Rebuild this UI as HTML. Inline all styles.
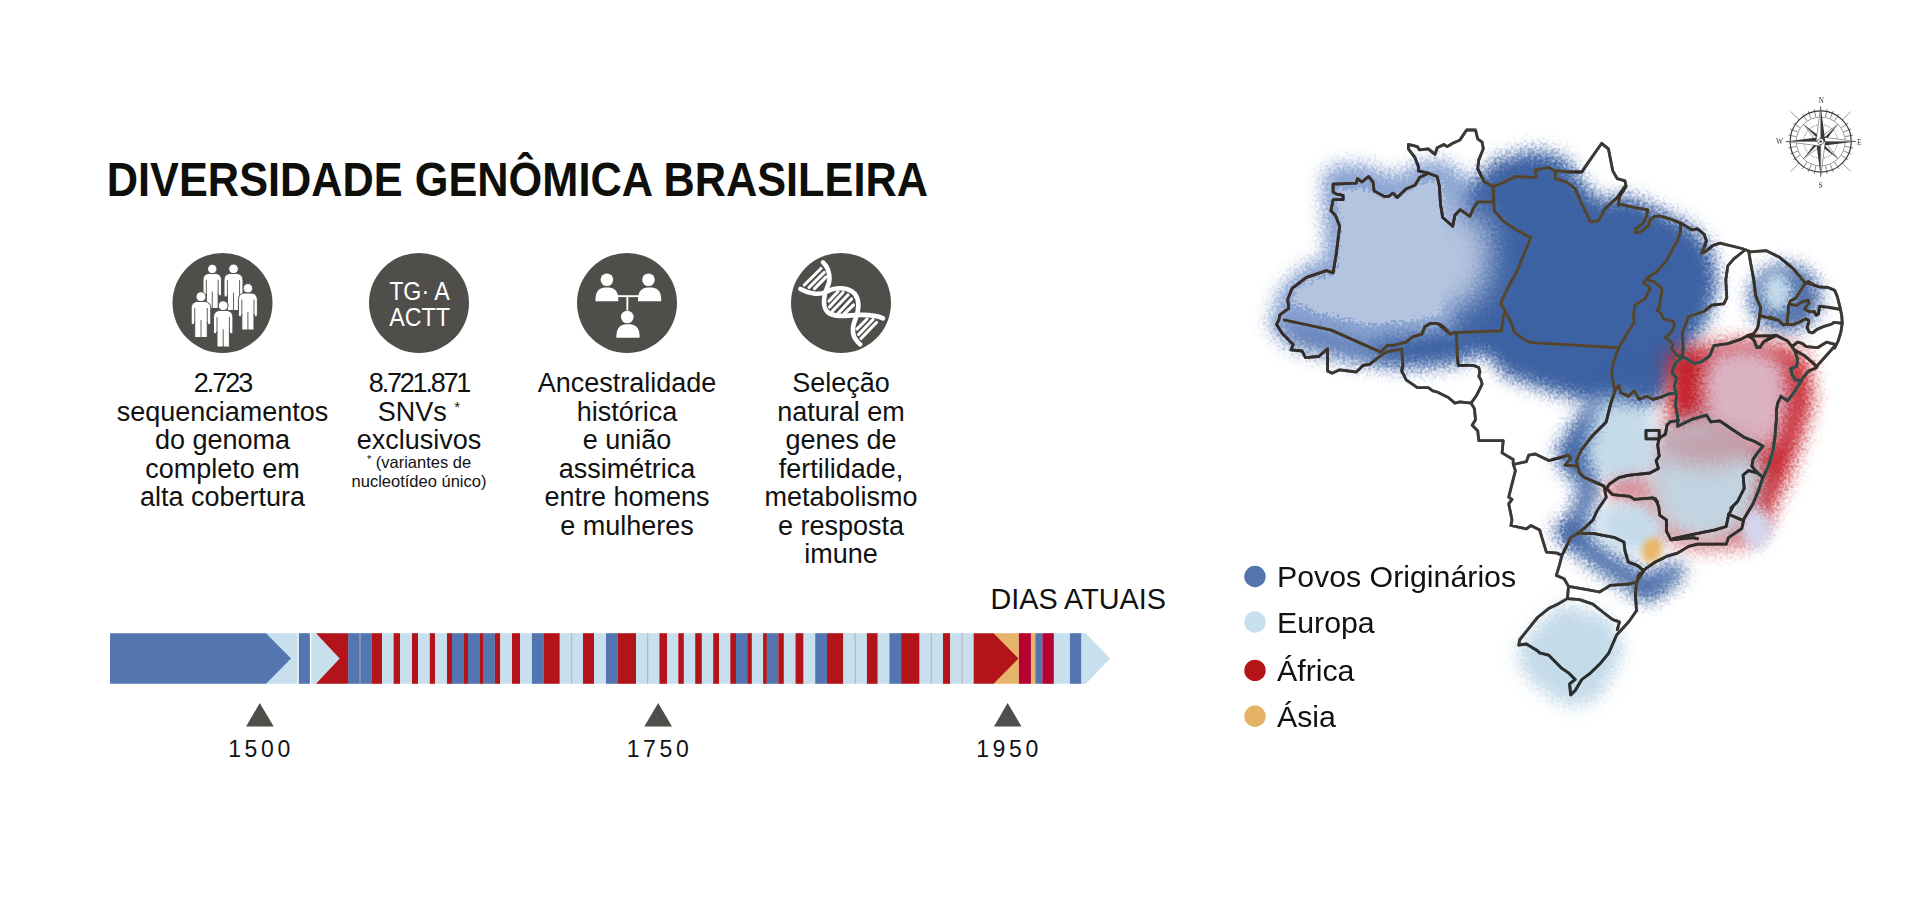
<!DOCTYPE html>
<html><head><meta charset="utf-8">
<style>
html,body{margin:0;padding:0;background:#fff;width:1920px;height:903px;overflow:hidden}
svg{display:block}
text{font-family:"Liberation Sans",sans-serif}
</style></head>
<body>
<svg width="1920" height="903" viewBox="0 0 1920 903">
<!-- TITLE -->
<text x="106.8" y="196" font-size="48" font-weight="700" fill="#0e0e0b" transform="translate(106.8 0) scale(0.9025 1) translate(-106.8 0)">DIVERSIDADE GENÔMICA BRASILEIRA</text>

<!-- ICON CIRCLES -->
<g fill="#4f4e4a">
<circle cx="222.5" cy="303" r="50"/>
<circle cx="419" cy="303" r="50"/>
<circle cx="627" cy="303" r="50"/>
<circle cx="841" cy="303" r="50"/>
</g>

<circle cx="212.25" cy="268.98" r="4.72" fill="#fff" stroke="#4f4e4a" stroke-width="1.0"/>
<path d="M203.00,293.92 L203.00,280.31 C203.00,275.44 205.78,273.50 209.47,273.50 L215.03,273.50 C218.72,273.50 221.50,275.44 221.50,280.31 L221.50,293.92 C221.50,296.35 218.17,296.35 218.17,293.92 L218.17,308.50 L206.33,308.50 L206.33,293.92 C206.33,296.35 203.00,296.35 203.00,293.92 Z" fill="#fff" stroke="#4f4e4a" stroke-width="1.0" stroke-linejoin="round"/>
<path d="M206.33,279.82 L206.33,294.89 M218.17,279.82 L218.17,294.89 M212.25,291.49 L212.25,308.99" stroke="#4f4e4a" stroke-width="0.9" fill="none"/>
<circle cx="233.50" cy="268.85" r="4.84" fill="#fff" stroke="#4f4e4a" stroke-width="1.0"/>
<path d="M224.00,295.08 L224.00,280.69 C224.00,275.56 226.85,273.50 230.65,273.50 L236.35,273.50 C240.15,273.50 243.00,275.56 243.00,280.69 L243.00,295.08 C243.00,297.65 239.58,297.65 239.58,295.08 L239.58,310.50 L227.42,310.50 L227.42,295.08 C227.42,297.65 224.00,297.65 224.00,295.08 Z" fill="#fff" stroke="#4f4e4a" stroke-width="1.0" stroke-linejoin="round"/>
<path d="M227.42,280.18 L227.42,296.11 M239.58,280.18 L239.58,296.11 M233.50,292.51 L233.50,311.01" stroke="#4f4e4a" stroke-width="0.9" fill="none"/>
<circle cx="201.00" cy="296.70" r="5.00" fill="#fff" stroke="#4f4e4a" stroke-width="1.0"/>
<path d="M191.20,322.50 L191.20,308.50 C191.20,303.50 194.14,301.50 198.06,301.50 L203.94,301.50 C207.86,301.50 210.80,303.50 210.80,308.50 L210.80,322.50 C210.80,325.00 207.27,325.00 207.27,322.50 L207.27,337.50 L194.73,337.50 L194.73,322.50 C194.73,325.00 191.20,325.00 191.20,322.50 Z" fill="#fff" stroke="#4f4e4a" stroke-width="1.0" stroke-linejoin="round"/>
<path d="M194.73,308.00 L194.73,323.50 M207.27,308.00 L207.27,323.50 M201.00,320.00 L201.00,338.00" stroke="#4f4e4a" stroke-width="0.9" fill="none"/>
<circle cx="247.90" cy="288.35" r="4.84" fill="#fff" stroke="#4f4e4a" stroke-width="1.0"/>
<path d="M238.40,314.58 L238.40,300.19 C238.40,295.06 241.25,293.00 245.05,293.00 L250.75,293.00 C254.55,293.00 257.40,295.06 257.40,300.19 L257.40,314.58 C257.40,317.15 253.98,317.15 253.98,314.58 L253.98,330.00 L241.82,330.00 L241.82,314.58 C241.82,317.15 238.40,317.15 238.40,314.58 Z" fill="#fff" stroke="#4f4e4a" stroke-width="1.0" stroke-linejoin="round"/>
<path d="M241.82,299.68 L241.82,315.61 M253.98,299.68 L253.98,315.61 M247.90,312.01 L247.90,330.51" stroke="#4f4e4a" stroke-width="0.9" fill="none"/>
<circle cx="223.20" cy="305.75" r="4.95" fill="#fff" stroke="#4f4e4a" stroke-width="1.0"/>
<path d="M213.50,331.79 L213.50,317.60 C213.50,312.53 216.41,310.50 220.29,310.50 L226.11,310.50 C229.99,310.50 232.90,312.53 232.90,317.60 L232.90,331.79 C232.90,334.33 229.41,334.33 229.41,331.79 L229.41,347.00 L216.99,347.00 L216.99,331.79 C216.99,334.33 213.50,334.33 213.50,331.79 Z" fill="#fff" stroke="#4f4e4a" stroke-width="1.0" stroke-linejoin="round"/>
<path d="M216.99,317.09 L216.99,332.81 M229.41,317.09 L229.41,332.81 M223.20,329.26 L223.20,347.51" stroke="#4f4e4a" stroke-width="0.9" fill="none"/>
<g fill="#fff" font-size="25" text-anchor="middle">
<text x="419.5" y="300" transform="translate(419.5 0) scale(0.93 1) translate(-419.5 0)">TG· A</text>
<text x="419.5" y="326.5" transform="translate(419.5 0) scale(0.93 1) translate(-419.5 0)">ACTT</text>
</g>
<g fill="#fff">
<circle cx="606.9" cy="279.8" r="6.3"/>
<circle cx="648.5" cy="279.8" r="6.3"/>
<circle cx="627.3" cy="317" r="6.3"/>
<path d="M595.4,301.2 C595.4,289.5 600.0,287.5 606.9,287.5 C613.8,287.5 618.4,289.5 618.4,301.2 Z"/>
<path d="M637.9,301.2 C637.9,289.5 642.5799999999999,287.5 649.5999999999999,287.5 C656.62,287.5 661.3,289.5 661.3,301.2 Z"/>
<path d="M616.3,337.8 C616.3,326.2 620.98,324.2 628.0,324.2 C635.02,324.2 639.7,326.2 639.7,337.8 Z"/>
<rect x="617" y="295.2" width="22" height="1.9"/>
<rect x="626.4" y="296" width="1.9" height="14.5"/>
</g>
<g fill="none" stroke="#fff" stroke-linecap="round">
<path stroke-width="4.6" d="M823.0,262.4 C830.0,269.0 831.0,280.0 827.5,286.5 C824.0,294.0 822.0,306.0 827.0,311.5 C833.0,317.5 846.0,316.0 857.0,315.0 C868.0,314.5 877.0,315.5 883.0,318.3"/>
<path stroke-width="4.6" d="M800.4,289.0 C809.0,294.0 819.0,295.0 826.0,292.0 C835.0,287.0 848.0,286.5 855.0,294.0 C860.0,301.0 858.5,311.0 855.5,319.0 C852.0,327.0 851.0,337.0 860.2,344.4"/>
<line stroke-width="3.1" x1="804.3" y1="285.0" x2="821.0" y2="268.5"/>
<line stroke-width="3.1" x1="809.0" y1="287.5" x2="824.2" y2="272.4"/>
<line stroke-width="3.1" x1="814.5" y1="288.6" x2="826.2" y2="276.8"/>
<line stroke-width="3.1" x1="829.0" y1="301.0" x2="838.0" y2="291.5"/>
<line stroke-width="3.1" x1="829.5" y1="307.0" x2="843.0" y2="292.5"/>
<line stroke-width="3.1" x1="832.0" y1="311.5" x2="848.0" y2="295.0"/>
<line stroke-width="3.1" x1="838.0" y1="313.5" x2="851.5" y2="299.0"/>
<line stroke-width="3.1" x1="844.0" y1="314.0" x2="853.5" y2="305.0"/>
<line stroke-width="3.1" x1="857.0" y1="329.0" x2="867.0" y2="319.0"/>
<line stroke-width="3.1" x1="858.5" y1="334.5" x2="873.0" y2="319.5"/>
<line stroke-width="3.1" x1="861.0" y1="338.5" x2="876.5" y2="322.5"/>
</g>
<!-- CAPTIONS -->
<g font-size="27" fill="#111" text-anchor="middle">
<text x="222.5" y="392" letter-spacing="-2">2.723</text>
<text x="222.5" y="420.5">sequenciamentos</text>
<text x="222.5" y="449">do genoma</text>
<text x="222.5" y="477.5">completo em</text>
<text x="222.5" y="506">alta cobertura</text>

<text x="419" y="392" letter-spacing="-2.2">8.721.871</text>
<text x="419" y="420.5">SNVs <tspan font-size="15" dy="-9">*</tspan></text>
<text x="419" y="449">exclusivos</text>
<text x="419" y="468" font-size="16.5"><tspan font-size="11" dy="-5">*</tspan><tspan dy="5"> (variantes de</tspan></text>
<text x="419" y="486.5" font-size="16.5">nucleotídeo único)</text>

<text x="627" y="392">Ancestralidade</text>
<text x="627" y="420.5">histórica</text>
<text x="627" y="449">e união</text>
<text x="627" y="477.5">assimétrica</text>
<text x="627" y="506">entre homens</text>
<text x="627" y="534.5">e mulheres</text>

<text x="841" y="392">Seleção</text>
<text x="841" y="420.5">natural em</text>
<text x="841" y="449">genes de</text>
<text x="841" y="477.5">fertilidade,</text>
<text x="841" y="506">metabolismo</text>
<text x="841" y="534.5">e resposta</text>
<text x="841" y="563">imune</text>
</g>

<!-- TIMELINE -->
<g id="timeline">
<rect x="262.0" y="633.2" width="35.4" height="50.6" fill="#c8e0ee"/>
<polygon points="110,633.2 266,633.2 291,658.5 266,683.8000000000001 110,683.8000000000001" fill="#5375b0"/>
<rect x="298.8" y="633.2" width="11.1" height="50.6" fill="#5375b0"/>
<rect x="311.2" y="633.2" width="29.8" height="50.6" fill="#c8e0ee"/>
<polygon points="316,633.2 348.6,633.2 348.6,683.8000000000001 316,683.8000000000001 339.7,658.5" fill="#b31419"/>
<rect x="348.2" y="633.2" width="23.7" height="50.6" fill="#5375b0"/>
<rect x="371.9" y="633.2" width="10.2" height="50.6" fill="#b31419"/>
<rect x="382.0" y="633.2" width="11.7" height="50.6" fill="#c8e0ee"/>
<rect x="393.6" y="633.2" width="6.4" height="50.6" fill="#b31419"/>
<rect x="400.0" y="633.2" width="12.1" height="50.6" fill="#c8e0ee"/>
<rect x="412.0" y="633.2" width="6.1" height="50.6" fill="#b31419"/>
<rect x="418.0" y="633.2" width="11.9" height="50.6" fill="#c8e0ee"/>
<rect x="429.8" y="633.2" width="5.4" height="50.6" fill="#b31419"/>
<rect x="435.2" y="633.2" width="11.9" height="50.6" fill="#c8e0ee"/>
<rect x="447.0" y="633.2" width="5.1" height="50.6" fill="#b31419"/>
<rect x="452.0" y="633.2" width="12.1" height="50.6" fill="#5375b0"/>
<rect x="464.0" y="633.2" width="4.1" height="50.6" fill="#b31419"/>
<rect x="468.0" y="633.2" width="12.1" height="50.6" fill="#5375b0"/>
<rect x="480.0" y="633.2" width="3.1" height="50.6" fill="#b31419"/>
<rect x="483.0" y="633.2" width="11.9" height="50.6" fill="#5375b0"/>
<rect x="494.9" y="633.2" width="5.5" height="50.6" fill="#b31419"/>
<rect x="500.3" y="633.2" width="11.7" height="50.6" fill="#c8e0ee"/>
<rect x="512.0" y="633.2" width="8.0" height="50.6" fill="#b31419"/>
<rect x="520.0" y="633.2" width="11.9" height="50.6" fill="#c8e0ee"/>
<rect x="531.9" y="633.2" width="11.5" height="50.6" fill="#5375b0"/>
<rect x="543.4" y="633.2" width="16.4" height="50.6" fill="#b31419"/>
<rect x="559.8" y="633.2" width="23.2" height="50.6" fill="#c8e0ee"/>
<rect x="583.0" y="633.2" width="11.0" height="50.6" fill="#b31419"/>
<rect x="594.0" y="633.2" width="12.0" height="50.6" fill="#c8e0ee"/>
<rect x="606.0" y="633.2" width="11.8" height="50.6" fill="#5375b0"/>
<rect x="617.7" y="633.2" width="18.3" height="50.6" fill="#b31419"/>
<rect x="636.0" y="633.2" width="23.4" height="50.6" fill="#c8e0ee"/>
<rect x="659.4" y="633.2" width="7.6" height="50.6" fill="#b31419"/>
<rect x="667.0" y="633.2" width="11.3" height="50.6" fill="#c8e0ee"/>
<rect x="678.3" y="633.2" width="5.6" height="50.6" fill="#b31419"/>
<rect x="683.9" y="633.2" width="11.4" height="50.6" fill="#c8e0ee"/>
<rect x="695.2" y="633.2" width="6.7" height="50.6" fill="#b31419"/>
<rect x="701.9" y="633.2" width="11.4" height="50.6" fill="#c8e0ee"/>
<rect x="713.2" y="633.2" width="5.8" height="50.6" fill="#b31419"/>
<rect x="719.0" y="633.2" width="11.3" height="50.6" fill="#c8e0ee"/>
<rect x="730.3" y="633.2" width="5.8" height="50.6" fill="#b31419"/>
<rect x="736.0" y="633.2" width="11.2" height="50.6" fill="#5375b0"/>
<rect x="747.2" y="633.2" width="4.7" height="50.6" fill="#b31419"/>
<rect x="751.9" y="633.2" width="11.2" height="50.6" fill="#c8e0ee"/>
<rect x="763.1" y="633.2" width="3.8" height="50.6" fill="#b31419"/>
<rect x="766.9" y="633.2" width="11.4" height="50.6" fill="#5375b0"/>
<rect x="778.3" y="633.2" width="5.6" height="50.6" fill="#b31419"/>
<rect x="783.9" y="633.2" width="11.6" height="50.6" fill="#c8e0ee"/>
<rect x="795.5" y="633.2" width="8.1" height="50.6" fill="#b31419"/>
<rect x="803.6" y="633.2" width="11.6" height="50.6" fill="#c8e0ee"/>
<rect x="815.2" y="633.2" width="11.8" height="50.6" fill="#5375b0"/>
<rect x="827.0" y="633.2" width="16.4" height="50.6" fill="#b31419"/>
<rect x="843.4" y="633.2" width="23.5" height="50.6" fill="#c8e0ee"/>
<rect x="866.9" y="633.2" width="10.9" height="50.6" fill="#b31419"/>
<rect x="877.7" y="633.2" width="11.7" height="50.6" fill="#c8e0ee"/>
<rect x="889.4" y="633.2" width="11.8" height="50.6" fill="#5375b0"/>
<rect x="901.1" y="633.2" width="18.5" height="50.6" fill="#b31419"/>
<rect x="919.6" y="633.2" width="23.4" height="50.6" fill="#c8e0ee"/>
<rect x="943.0" y="633.2" width="7.3" height="50.6" fill="#b31419"/>
<rect x="950.3" y="633.2" width="23.8" height="50.6" fill="#c8e0ee"/>
<rect x="993.0" y="633.2" width="25.9" height="50.6" fill="#e6b46b"/>
<rect x="1018.9" y="633.2" width="12.1" height="50.6" fill="#b60032"/>
<rect x="1030.9" y="633.2" width="4.4" height="50.6" fill="#e6b46b"/>
<rect x="1035.3" y="633.2" width="7.2" height="50.6" fill="#5375b0"/>
<rect x="1042.4" y="633.2" width="11.5" height="50.6" fill="#b60032"/>
<rect x="1053.9" y="633.2" width="16.0" height="50.6" fill="#c8e0ee"/>
<rect x="1069.9" y="633.2" width="11.7" height="50.6" fill="#5375b0"/>
<rect x="359.5" y="633.2" width="1" height="50.6" fill="#c0a8b8"/>
<rect x="571.2" y="633.2" width="1" height="50.6" fill="#c0a8b8"/>
<rect x="647.2" y="633.2" width="1" height="50.6" fill="#c0a8b8"/>
<rect x="854.7" y="633.2" width="1" height="50.6" fill="#c0a8b8"/>
<rect x="930.8" y="633.2" width="1" height="50.6" fill="#c0a8b8"/>
<rect x="961.5" y="633.2" width="1" height="50.6" fill="#c0a8b8"/>
<polygon points="973.7,633.2 993.5,633.2 1018.5,658.5 993.5,683.8000000000001 973.7,683.8000000000001" fill="#b31419"/>
<polygon points="1081.4,633.2 1085.8,633.2 1110.2,658.5 1085.8,683.8000000000001 1081.4,683.8000000000001" fill="#c8e0ee"/>
</g>
<text x="990.5" y="609" font-size="28.8" fill="#111">DIAS ATUAIS</text>
<g fill="#4f4e4a">
<polygon points="246,726.5 273.7,726.5 259.8,703"/>
<polygon points="644.3,726.5 672,726.5 658.2,703"/>
<polygon points="994,726.5 1021.5,726.5 1007.6,703"/>
</g>
<g font-size="23" fill="#111" text-anchor="middle" letter-spacing="3.6">
<text x="261" y="757">1500</text>
<text x="659.5" y="757">1750</text>
<text x="1009" y="757">1950</text>
</g>

<!-- MAP -->
<g id="map">
<defs>
<filter id="b3" x="-50%" y="-50%" width="200%" height="200%"><feGaussianBlur stdDeviation="3"/></filter>
<filter id="b4" x="-50%" y="-50%" width="200%" height="200%"><feGaussianBlur stdDeviation="4"/></filter>
<filter id="b5" x="-50%" y="-50%" width="200%" height="200%"><feGaussianBlur stdDeviation="5"/></filter>
<filter id="b9" x="-50%" y="-50%" width="200%" height="200%"><feGaussianBlur stdDeviation="9"/></filter>
<filter id="b6" x="-50%" y="-50%" width="200%" height="200%"><feGaussianBlur stdDeviation="6"/></filter>
<filter id="b8" x="-50%" y="-50%" width="200%" height="200%"><feGaussianBlur stdDeviation="8"/></filter>
<filter id="b10" x="-50%" y="-50%" width="200%" height="200%"><feGaussianBlur stdDeviation="10"/></filter>
<filter id="b14" x="-50%" y="-50%" width="200%" height="200%"><feGaussianBlur stdDeviation="14"/></filter>
<filter id="b12" x="-50%" y="-50%" width="200%" height="200%"><feGaussianBlur stdDeviation="12"/></filter>
<filter id="spray" filterUnits="userSpaceOnUse" x="1200" y="90" width="680" height="640">
<feTurbulence type="fractalNoise" baseFrequency="0.35" numOctaves="2" seed="7" result="n"/>
<feDisplacementMap in="SourceGraphic" in2="n" scale="18" xChannelSelector="R" yChannelSelector="G"/>
</filter>
</defs>
<g filter="url(#spray)"><g>
<path d="M1268.0,326.0 L1280.0,288.0 L1305.0,265.0 L1325.0,258.0 L1322.0,180.0 L1330.0,166.0 L1362.0,164.0 L1395.0,176.0 L1425.0,160.0 L1448.0,162.0 L1478.0,188.0 L1500.0,200.0 L1520.0,300.0 L1470.0,360.0 L1380.0,365.0 L1300.0,345.0 Z" fill="#5b7fbf" filter="url(#b8)" opacity="0.7"/>
<path d="M1380.0,340.0 L1440.0,330.0 L1500.0,322.0 L1512.0,290.0 L1525.0,250.0 L1545.0,330.0 L1520.0,352.0 L1480.0,348.0 L1450.0,364.0 L1400.0,366.0 L1370.0,355.0 Z" fill="#3d62a3" filter="url(#b9)"/>
<path d="M1285.0,322.0 L1380.0,345.0 L1400.0,362.0 L1350.0,362.0 L1290.0,346.0 L1276.0,332.0 Z" fill="#3d62a3" filter="url(#b9)" opacity="0.6"/>
<path d="M1470.0,185.0 L1495.0,160.0 L1535.0,150.0 L1565.0,158.0 L1585.0,185.0 L1600.0,200.0 L1625.0,195.0 L1650.0,205.0 L1690.0,225.0 L1712.0,250.0 L1718.0,285.0 L1708.0,320.0 L1690.0,345.0 L1675.0,370.0 L1665.0,395.0 L1640.0,410.0 L1610.0,410.0 L1580.0,400.0 L1545.0,390.0 L1505.0,376.0 L1485.0,352.0 L1460.0,336.0 L1445.0,300.0 L1460.0,240.0 Z" fill="#3d62a3" filter="url(#b8)"/>
<path d="M1630.0,365.0 L1660.0,385.0 L1625.0,420.0 L1595.0,452.0 L1590.0,485.0 L1565.0,475.0 L1555.0,452.0 L1575.0,420.0 L1600.0,390.0 Z" fill="#3d62a3" filter="url(#b8)"/>
<path d="M1566,530 L1600,558 L1645,588" stroke="#3d62a3" stroke-width="24" fill="none" stroke-linecap="round" filter="url(#b8)" opacity="0.9"/>
<path d="M1592,470 L1585,505 L1572,535" stroke="#3d62a3" stroke-width="22" fill="none" stroke-linecap="round" filter="url(#b8)" opacity="0.85"/>
<ellipse cx="1662" cy="580" rx="26" ry="13" fill="#3d62a3" filter="url(#b8)" opacity="0.85" transform="rotate(-35 1662 580)"/>
<ellipse cx="1785" cy="298" rx="36" ry="34" fill="#3d62a3" filter="url(#b8)" opacity="0.9"/>
<path d="M1292.0,302.0 L1296.0,290.0 L1310.0,280.0 L1335.0,274.0 L1340.0,230.0 L1336.0,190.0 L1360.0,188.0 L1395.0,198.0 L1425.0,182.0 L1442.0,182.0 L1445.0,218.0 L1440.0,314.0 L1400.0,322.0 L1370.0,325.0 L1320.0,313.0 Z" fill="#b4c4df" filter="url(#b7)"/>
<path d="M1400.0,200.0 L1442.0,190.0 L1448.0,222.0 L1480.0,212.0 L1490.0,240.0 L1488.0,280.0 L1470.0,305.0 L1440.0,314.0 L1400.0,320.0 Z" fill="#b4c4df" filter="url(#b14)"/>
<ellipse cx="1777" cy="292" rx="15" ry="20" fill="#c5dbea" filter="url(#b6)"/>
<path d="M1596.0,398.0 L1640.0,402.0 L1660.0,428.0 L1658.0,470.0 L1635.0,488.0 L1600.0,484.0 L1586.0,452.0 Z" fill="#c5dbea" filter="url(#b9)"/>
<path d="M1668.0,352.0 L1700.0,346.0 L1745.0,342.0 L1790.0,348.0 L1808.0,360.0 L1812.0,400.0 L1800.0,440.0 L1786.0,480.0 L1770.0,510.0 L1755.0,530.0 L1740.0,535.0 L1720.0,520.0 L1690.0,505.0 L1665.0,492.0 L1662.0,470.0 L1670.0,440.0 L1668.0,400.0 Z" fill="#c41e25" filter="url(#b9)"/>
<path d="M1605.0,482.0 L1650.0,476.0 L1668.0,505.0 L1700.0,528.0 L1745.0,522.0 L1768.0,488.0 L1772.0,522.0 L1748.0,548.0 L1700.0,552.0 L1660.0,540.0 L1630.0,508.0 L1604.0,496.0 Z" fill="#c41e25" filter="url(#b8)" opacity="0.5"/>
<path d="M1710.0,352.0 L1750.0,345.0 L1785.0,360.0 L1790.0,400.0 L1780.0,440.0 L1760.0,455.0 L1725.0,440.0 L1705.0,420.0 L1700.0,385.0 Z" fill="#dbb3c2" filter="url(#b9)"/>
<path d="M1665.0,425.0 L1700.0,414.0 L1748.0,438.0 L1765.0,472.0 L1755.0,512.0 L1740.0,532.0 L1700.0,540.0 L1668.0,528.0 L1650.0,487.0 L1655.0,450.0 Z" fill="#c2d4e1" filter="url(#b9)"/>
<ellipse cx="1708" cy="446" rx="48" ry="20" fill="#c41e25" filter="url(#b10)" opacity="0.28"/>
<path d="M1600.0,505.0 L1640.0,500.0 L1665.0,520.0 L1660.0,545.0 L1640.0,555.0 L1610.0,548.0 L1595.0,525.0 Z" fill="#c5dbea" filter="url(#b8)"/>
<path d="M1518.0,645.0 L1560.0,603.0 L1610.0,616.0 L1625.0,650.0 L1600.0,698.0 L1572.0,708.0 L1542.0,692.0 L1520.0,670.0 Z" fill="#c5dbea" filter="url(#b8)"/>
<ellipse cx="1756" cy="528" rx="16" ry="21" fill="#d4d5eb" filter="url(#b5)"/>
</g></g>
<ellipse cx="1652" cy="550" rx="10" ry="13" fill="#e8b56a" filter="url(#b3)" transform="rotate(20 1652 550)"/>
<g fill="none" stroke="#c3c5ca" stroke-width="2.8" stroke-linejoin="round" stroke-linecap="round" style="mix-blend-mode:difference">
<path d="M1279.9,314.9 L1288.8,308.3 L1287.7,299.4 L1292.1,288.3 L1306.5,277.3 L1319.8,272.8 L1326.4,270.6 L1333.1,272.8 L1336.4,252.9 L1339.7,226.3 L1335.3,215.2 L1330.9,210.8 L1333.1,199.7 L1343.1,199.7 L1343.1,195.3 L1336.4,194.2 L1333.1,192.0 L1333.1,184.2 L1356.3,183.1 L1357.5,178.7 L1361.9,182.0 L1368.5,176.5 L1373.0,182.0 L1374.1,190.9 L1384.0,196.4 L1388.5,196.4 L1392.9,193.1 L1397.3,197.5 L1406.2,188.7 L1415.0,185.3 L1419.5,177.6 L1428.3,173.2 L1418.4,170.9 L1418.4,166.5 L1415.0,157.7 L1408.4,148.8 L1408.4,144.4 L1417.3,146.6 L1419.5,149.9 L1428.3,148.8 L1435.0,154.3 L1437.2,147.7 L1443.8,144.4 L1447.2,146.6 L1452.7,143.3 L1460.0,139.9 L1466.6,130.0 L1475.5,130.0 L1477.7,138.8 L1482.1,142.1 L1483.3,148.8 L1478.8,159.9 L1477.7,168.7 L1481.0,175.4 L1484.4,182.0 L1493.2,186.4 L1499.9,184.2 L1515.4,176.5 L1536.4,177.6 L1535.3,169.8 L1548.6,167.6 L1555.2,170.9 L1570.7,172.0 L1581.8,172.0 L1588.5,162.1 L1601.7,143.3 L1608.4,148.8 L1612.8,170.9 L1617.3,178.7 L1625.0,180.9 L1626.1,186.4 L1619.5,196.4 L1618.4,205.3 L1620.6,204.4 L1634.4,207.7 L1647.7,209.9 L1646.6,215.5 L1643.3,223.2 L1635.5,228.8 L1635.5,232.6 L1639.9,232.1 L1648.8,225.4 L1649.9,219.9 L1654.3,216.6 L1659.9,216.0 L1669.8,218.8 L1680.9,223.2 L1692.0,229.9 L1697.5,228.8 L1704.2,234.3 L1706.4,240.9 L1701.9,253.1 L1706.4,250.9 L1713.0,245.4 L1720.0,243.2 L1741.9,248.5 L1750.8,251.8 L1766.3,250.7 L1779.6,257.3 L1792.9,268.4 L1804.0,281.7 L1812.8,285.0 L1808.1,281.5 L1814.3,285.1 L1818.7,286.8 L1827.6,287.3 L1834.7,290.4 L1837.3,296.6 L1840.0,307.2 L1841.8,316.1 L1842.2,323.2 L1840.9,332.0 L1838.2,340.9 L1834.7,348.0 L1835.2,345.5 L1826.4,355.5 L1817.5,365.4 L1816.4,367.7 L1808.7,371.0 L1803.1,377.6 L1799.8,383.2 L1794.3,392.0 L1787.6,400.9 L1781.0,396.4 L1777.7,403.1 L1776.5,409.7 L1776.5,418.6 L1775.4,430.0 L1775.2,435.2 L1773.0,450.7 L1768.5,466.2 L1763.0,477.3 L1758.6,490.5 L1753.0,503.8 L1744.0,518.8 L1741.7,528.7 L1728.5,537.6 L1726.2,544.2 L1697.5,544.2 L1688.6,546.4 L1677.5,553.1 L1666.4,556.4 L1655.4,561.9 L1644.3,569.7 L1641.0,575.2 L1636.5,581.9 L1635.4,595.2 L1636.5,610.7 L1628.8,621.7 L1616.6,635.0 L1608.9,652.8 L1600.0,663.8 L1590.7,672.8 L1581.8,679.5 L1575.2,690.5 L1570.7,695.0 L1569.6,683.9 L1575.2,679.5 L1568.5,672.8 L1561.9,668.4 L1555.2,661.7 L1548.6,655.1 L1539.7,652.9 L1537.5,650.7 L1526.4,644.0 L1518.7,645.1 L1519.8,639.6 L1537.5,617.5 L1548.6,608.6 L1557.5,604.2 L1567.4,598.6 L1568.5,586.4 L1564.1,578.7 L1556.3,575.4 L1559.7,564.3 L1561.9,555.4 L1557.5,553.2 L1546.4,552.1 L1541.9,537.7 L1539.7,530.0 L1530.9,525.5 L1526.4,528.9 L1510.9,525.5 L1512.0,520.0 L1508.7,503.8 L1512.0,499.4 L1508.7,497.2 L1510.9,488.3 L1515.4,470.6 L1513.2,464.0 L1513.2,459.5 L1502.1,452.9 L1503.2,440.7 L1478.8,440.7 L1477.7,430.7 L1472.2,425.2 L1475.5,419.7 L1474.4,408.6 L1471.1,403.1 L1460.0,401.9 L1454.9,403.1 L1448.3,397.5 L1437.2,392.0 L1432.8,390.9 L1428.3,387.6 L1417.3,387.6 L1406.2,379.8 L1401.7,370.9 L1402.9,364.3 L1401.7,348.8 L1386.2,352.1 L1379.6,356.5 L1369.6,364.3 L1363.0,365.4 L1356.3,372.0 L1339.7,369.8 L1332.0,373.2 L1327.6,370.9 L1327.6,348.8 L1318.7,356.5 L1305.4,357.7 L1302.1,351.0 L1291.0,349.9 L1293.2,344.4 L1282.1,333.3 L1276.6,324.4 L1278.8,320.0 Z"/>
<path d="M1555.2,170.9 L1555.2,178.7 L1566.3,182.0 L1575.2,188.7 L1580.7,201.9 L1590.7,221.9 L1598.4,220.8 L1605.1,208.6 L1617.3,197.5 L1625.0,186.4"/>
<path d="M1428.3,173.2 L1437.2,176.5 L1439.4,186.4 L1440.5,204.2 L1442.7,217.5 L1452.7,226.3 L1454.9,215.2 L1460.0,209.7 L1470.0,216.3 L1473.3,208.6 L1477.7,201.9 L1493.2,201.9 L1493.2,186.4"/>
<path d="M1493.2,186.4 L1494.3,210.8 L1504.3,221.9 L1517.6,230.7 L1530.9,237.4 L1515.4,275.0 L1512.0,280.0 L1506.4,291.1 L1501.5,301.0 L1500.9,304.9 L1504.2,308.8 L1505.3,312.1 L1503.1,316.5 L1502.6,323.2 L1501.5,330.9 L1453.3,332.6 L1450.5,334.3 L1444.4,327.6 L1440.0,324.3 L1450.5,334.4 L1437.2,323.3 L1430.5,323.3 L1425.0,326.6 L1421.7,334.4 L1412.8,336.6 L1406.2,342.1 L1392.9,345.5 L1387.4,345.5 L1380.7,352.1 L1330.9,330.0 L1284.4,320.0"/>
<path d="M1455.5,333.2 L1456.6,335.4 L1457.2,355.3 L1458.3,365.3 L1473.2,365.3 L1478.8,367.5 L1479.9,371.9 L1478.8,376.3 L1481.0,380.0 L1482.1,384.2 L1476.6,395.3 L1471.1,403.1"/>
<path d="M1505.3,312.1 L1507.6,315.4 L1512.0,324.3 L1514.2,332.0 L1523.1,338.7 L1528.6,342.0 L1540.0,343.1 L1617.3,347.7"/>
<path d="M1680.9,223.2 L1680.4,231.0 L1677.6,240.9 L1673.2,247.6 L1666.5,260.9 L1656.5,271.9 L1647.7,277.5 L1643.3,283.0 L1648.8,286.3 L1649.9,290.0 L1649.8,288.1 L1645.1,298.9 L1635.0,305.1 L1633.5,314.4 L1634.3,322.2 L1626.5,334.6 L1618.8,347.8"/>
<path d="M1618.8,347.8 L1613.3,362.5 L1611.8,373.3 L1612.6,380.0 L1615.0,390.9 L1610.6,404.2 L1606.2,421.9 L1592.9,435.2 L1580.7,450.7 L1576.3,461.7 L1579.6,472.8 L1584.0,477.3 L1604.0,486.1 L1606.2,497.2 L1597.3,510.5 L1592.9,520.0 L1586.2,526.6 L1577.4,533.3 L1570.7,537.7 L1566.3,546.6 L1561.9,555.4"/>
<path d="M1515.4,464.0 L1526.4,461.7 L1528.7,455.1 L1535.3,454.0 L1548.6,460.6 L1557.5,458.4 L1568.5,455.1 L1570.7,458.4 L1565.2,465.1 L1577.4,466.2"/>
<path d="M1647.7,279.7 L1654.3,281.9 L1661.0,287.5 L1662.1,290.0 L1660.6,298.9 L1659.1,308.2 L1656.7,310.5 L1660.6,312.9 L1663.7,319.1 L1673.0,321.4 L1674.6,325.3 L1671.5,331.5 L1665.3,337.7 L1669.9,340.8 L1673.0,345.4 L1671.5,348.5 L1676.1,354.7 L1682.3,357.1"/>
<path d="M1682.3,357.1 L1683.1,348.5 L1682.3,333.0 L1688.5,316.7 L1704.0,311.3 L1711.8,305.1 L1723.9,303.8 L1726.8,297.8 L1725.8,279.9 L1727.8,265.9 L1733.8,258.9 L1743.8,251.0"/>
<path d="M1748.8,252.0 L1750.8,263.9 L1753.8,279.9 L1755.7,295.8 L1760.7,307.8 L1759.7,315.7 L1757.7,327.7 L1753.8,333.7 L1747.8,335.7"/>
<path d="M1759.7,315.7 L1767.7,317.7 L1775.7,319.7 L1770.0,317.0 L1778.9,320.5 L1783.3,324.9 L1787.7,324.0"/>
<path d="M1808.1,282.4 L1804.6,284.2 L1800.1,291.3 L1795.7,298.3 L1790.4,301.0 L1788.6,305.4 L1788.2,312.5 L1787.3,319.6 L1787.7,324.0"/>
<path d="M1790.4,304.6 L1796.6,305.4 L1801.9,301.9 L1808.1,300.1 L1809.0,302.8 L1804.6,309.0 L1809.0,311.6 L1814.3,311.6 L1816.1,315.2 L1818.3,314.3 L1819.6,306.3 L1827.6,307.2 L1838.2,309.0 L1840.0,309.0"/>
<path d="M1787.7,324.0 L1792.1,324.9 L1799.2,322.3 L1805.4,318.7 L1809.0,320.5 L1807.2,327.6 L1809.0,332.0 L1812.5,332.9 L1817.0,329.4 L1823.2,326.7 L1832.0,324.0 L1833.8,322.3 L1840.9,323.2 L1842.2,323.2"/>
<path d="M1684.0,357.6 L1688.0,359.6 L1694.0,363.6 L1701.9,361.6 L1709.9,355.6 L1713.9,345.6 L1727.8,343.7 L1739.8,339.7 L1747.8,335.7 L1753.8,339.7 L1756.7,347.6 L1759.7,347.6 L1763.7,341.7 L1775.7,335.7 L1750.0,336.1 L1754.4,341.1 L1756.6,346.6 L1759.9,347.7 L1763.3,342.2 L1773.2,335.5 L1776.5,335.5 L1787.6,341.1 L1792.0,346.6 L1797.6,342.2 L1802.0,343.3 L1806.4,346.6 L1817.5,347.7 L1826.4,342.2 L1835.2,344.4"/>
<path d="M1792.0,346.6 L1795.4,352.1 L1797.6,359.9 L1796.5,366.5 L1790.9,368.8 L1792.0,374.3 L1795.4,379.8 L1800.9,380.9"/>
<path d="M1794.3,349.9 L1804.2,355.5 L1812.0,362.1 L1816.4,366.5"/>
<path d="M1682.3,357.1 L1676.1,362.5 L1673.0,368.7 L1672.2,373.2 L1676.6,377.6 L1674.4,386.4 L1676.6,395.3 L1675.5,404.2 L1677.7,417.5 L1677.7,426.3 L1691.0,419.7 L1706.5,415.2 L1710.9,421.9 L1719.8,420.8 L1730.9,428.5 L1744.2,437.4 L1755.2,441.8 L1763.0,446.2 L1757.5,452.9 L1753.0,459.5 L1751.9,466.2 L1757.5,472.8 L1763.0,477.3"/>
<path d="M1614.3,390.9 L1618.9,385.4 L1620.5,392.4 L1628.2,396.3 L1634.4,390.9 L1639.1,399.4 L1646.8,396.3 L1653.0,399.4 L1660.8,397.1 L1668.5,394.0 L1675.5,393.2"/>
<path d="M1678.6,420.3 L1670.1,421.9 L1667.0,425.0 L1665.4,434.3 L1659.2,438.1 L1657.7,445.1 L1659.2,456.0 L1656.1,460.6 L1658.4,468.4 L1649.9,473.0 L1628.2,475.3 L1618.9,477.7 L1609.6,483.9 L1606.5,488.5"/>
<path d="M1606.5,488.5 L1612.7,494.7 L1629.8,496.3 L1634.4,499.4 L1653.0,497.8 L1657.7,502.5 L1655.4,498.8 L1658.7,506.6 L1659.8,515.4 L1666.4,519.9 L1666.4,530.9 L1670.9,539.8 L1693.0,537.6 L1697.5,538.7"/>
<path d="M1757.5,472.8 L1748.6,470.6 L1743.1,475.0 L1744.2,488.3 L1737.5,501.6 L1730.9,508.3 L1732.9,506.6 L1728.5,515.4 L1726.2,526.5 L1715.2,529.8 L1693.0,534.3 L1673.1,538.7"/>
<path d="M1728.5,514.3 L1741.7,519.9"/>
<path d="M1577.4,533.3 L1592.9,533.3 L1615.0,537.7 L1623.9,542.1 L1625.0,551.0 L1628.3,562.1 L1637.2,565.4 L1643.8,570.9 L1639.4,574.3"/>
<path d="M1568.5,586.4 L1588.5,589.8 L1599.5,592.0 L1610.6,585.3 L1628.3,584.2 L1637.2,582.0 L1638.3,575.4"/>
<path d="M1567.4,598.6 L1579.6,599.7 L1592.9,604.2 L1604.0,613.0 L1612.8,619.7 L1619.5,621.9 L1617.3,629.6"/>
<rect x="1646.0" y="430.4" width="13.2" height="8.5"/>
</g>
<g fill="none" stroke="#3c3a35" stroke-width="2.8" stroke-linejoin="round" stroke-linecap="round" opacity="0.7">
<path d="M1279.9,314.9 L1288.8,308.3 L1287.7,299.4 L1292.1,288.3 L1306.5,277.3 L1319.8,272.8 L1326.4,270.6 L1333.1,272.8 L1336.4,252.9 L1339.7,226.3 L1335.3,215.2 L1330.9,210.8 L1333.1,199.7 L1343.1,199.7 L1343.1,195.3 L1336.4,194.2 L1333.1,192.0 L1333.1,184.2 L1356.3,183.1 L1357.5,178.7 L1361.9,182.0 L1368.5,176.5 L1373.0,182.0 L1374.1,190.9 L1384.0,196.4 L1388.5,196.4 L1392.9,193.1 L1397.3,197.5 L1406.2,188.7 L1415.0,185.3 L1419.5,177.6 L1428.3,173.2 L1418.4,170.9 L1418.4,166.5 L1415.0,157.7 L1408.4,148.8 L1408.4,144.4 L1417.3,146.6 L1419.5,149.9 L1428.3,148.8 L1435.0,154.3 L1437.2,147.7 L1443.8,144.4 L1447.2,146.6 L1452.7,143.3 L1460.0,139.9 L1466.6,130.0 L1475.5,130.0 L1477.7,138.8 L1482.1,142.1 L1483.3,148.8 L1478.8,159.9 L1477.7,168.7 L1481.0,175.4 L1484.4,182.0 L1493.2,186.4 L1499.9,184.2 L1515.4,176.5 L1536.4,177.6 L1535.3,169.8 L1548.6,167.6 L1555.2,170.9 L1570.7,172.0 L1581.8,172.0 L1588.5,162.1 L1601.7,143.3 L1608.4,148.8 L1612.8,170.9 L1617.3,178.7 L1625.0,180.9 L1626.1,186.4 L1619.5,196.4 L1618.4,205.3 L1620.6,204.4 L1634.4,207.7 L1647.7,209.9 L1646.6,215.5 L1643.3,223.2 L1635.5,228.8 L1635.5,232.6 L1639.9,232.1 L1648.8,225.4 L1649.9,219.9 L1654.3,216.6 L1659.9,216.0 L1669.8,218.8 L1680.9,223.2 L1692.0,229.9 L1697.5,228.8 L1704.2,234.3 L1706.4,240.9 L1701.9,253.1 L1706.4,250.9 L1713.0,245.4 L1720.0,243.2 L1741.9,248.5 L1750.8,251.8 L1766.3,250.7 L1779.6,257.3 L1792.9,268.4 L1804.0,281.7 L1812.8,285.0 L1808.1,281.5 L1814.3,285.1 L1818.7,286.8 L1827.6,287.3 L1834.7,290.4 L1837.3,296.6 L1840.0,307.2 L1841.8,316.1 L1842.2,323.2 L1840.9,332.0 L1838.2,340.9 L1834.7,348.0 L1835.2,345.5 L1826.4,355.5 L1817.5,365.4 L1816.4,367.7 L1808.7,371.0 L1803.1,377.6 L1799.8,383.2 L1794.3,392.0 L1787.6,400.9 L1781.0,396.4 L1777.7,403.1 L1776.5,409.7 L1776.5,418.6 L1775.4,430.0 L1775.2,435.2 L1773.0,450.7 L1768.5,466.2 L1763.0,477.3 L1758.6,490.5 L1753.0,503.8 L1744.0,518.8 L1741.7,528.7 L1728.5,537.6 L1726.2,544.2 L1697.5,544.2 L1688.6,546.4 L1677.5,553.1 L1666.4,556.4 L1655.4,561.9 L1644.3,569.7 L1641.0,575.2 L1636.5,581.9 L1635.4,595.2 L1636.5,610.7 L1628.8,621.7 L1616.6,635.0 L1608.9,652.8 L1600.0,663.8 L1590.7,672.8 L1581.8,679.5 L1575.2,690.5 L1570.7,695.0 L1569.6,683.9 L1575.2,679.5 L1568.5,672.8 L1561.9,668.4 L1555.2,661.7 L1548.6,655.1 L1539.7,652.9 L1537.5,650.7 L1526.4,644.0 L1518.7,645.1 L1519.8,639.6 L1537.5,617.5 L1548.6,608.6 L1557.5,604.2 L1567.4,598.6 L1568.5,586.4 L1564.1,578.7 L1556.3,575.4 L1559.7,564.3 L1561.9,555.4 L1557.5,553.2 L1546.4,552.1 L1541.9,537.7 L1539.7,530.0 L1530.9,525.5 L1526.4,528.9 L1510.9,525.5 L1512.0,520.0 L1508.7,503.8 L1512.0,499.4 L1508.7,497.2 L1510.9,488.3 L1515.4,470.6 L1513.2,464.0 L1513.2,459.5 L1502.1,452.9 L1503.2,440.7 L1478.8,440.7 L1477.7,430.7 L1472.2,425.2 L1475.5,419.7 L1474.4,408.6 L1471.1,403.1 L1460.0,401.9 L1454.9,403.1 L1448.3,397.5 L1437.2,392.0 L1432.8,390.9 L1428.3,387.6 L1417.3,387.6 L1406.2,379.8 L1401.7,370.9 L1402.9,364.3 L1401.7,348.8 L1386.2,352.1 L1379.6,356.5 L1369.6,364.3 L1363.0,365.4 L1356.3,372.0 L1339.7,369.8 L1332.0,373.2 L1327.6,370.9 L1327.6,348.8 L1318.7,356.5 L1305.4,357.7 L1302.1,351.0 L1291.0,349.9 L1293.2,344.4 L1282.1,333.3 L1276.6,324.4 L1278.8,320.0 Z"/>
<path d="M1555.2,170.9 L1555.2,178.7 L1566.3,182.0 L1575.2,188.7 L1580.7,201.9 L1590.7,221.9 L1598.4,220.8 L1605.1,208.6 L1617.3,197.5 L1625.0,186.4"/>
<path d="M1428.3,173.2 L1437.2,176.5 L1439.4,186.4 L1440.5,204.2 L1442.7,217.5 L1452.7,226.3 L1454.9,215.2 L1460.0,209.7 L1470.0,216.3 L1473.3,208.6 L1477.7,201.9 L1493.2,201.9 L1493.2,186.4"/>
<path d="M1493.2,186.4 L1494.3,210.8 L1504.3,221.9 L1517.6,230.7 L1530.9,237.4 L1515.4,275.0 L1512.0,280.0 L1506.4,291.1 L1501.5,301.0 L1500.9,304.9 L1504.2,308.8 L1505.3,312.1 L1503.1,316.5 L1502.6,323.2 L1501.5,330.9 L1453.3,332.6 L1450.5,334.3 L1444.4,327.6 L1440.0,324.3 L1450.5,334.4 L1437.2,323.3 L1430.5,323.3 L1425.0,326.6 L1421.7,334.4 L1412.8,336.6 L1406.2,342.1 L1392.9,345.5 L1387.4,345.5 L1380.7,352.1 L1330.9,330.0 L1284.4,320.0"/>
<path d="M1455.5,333.2 L1456.6,335.4 L1457.2,355.3 L1458.3,365.3 L1473.2,365.3 L1478.8,367.5 L1479.9,371.9 L1478.8,376.3 L1481.0,380.0 L1482.1,384.2 L1476.6,395.3 L1471.1,403.1"/>
<path d="M1505.3,312.1 L1507.6,315.4 L1512.0,324.3 L1514.2,332.0 L1523.1,338.7 L1528.6,342.0 L1540.0,343.1 L1617.3,347.7"/>
<path d="M1680.9,223.2 L1680.4,231.0 L1677.6,240.9 L1673.2,247.6 L1666.5,260.9 L1656.5,271.9 L1647.7,277.5 L1643.3,283.0 L1648.8,286.3 L1649.9,290.0 L1649.8,288.1 L1645.1,298.9 L1635.0,305.1 L1633.5,314.4 L1634.3,322.2 L1626.5,334.6 L1618.8,347.8"/>
<path d="M1618.8,347.8 L1613.3,362.5 L1611.8,373.3 L1612.6,380.0 L1615.0,390.9 L1610.6,404.2 L1606.2,421.9 L1592.9,435.2 L1580.7,450.7 L1576.3,461.7 L1579.6,472.8 L1584.0,477.3 L1604.0,486.1 L1606.2,497.2 L1597.3,510.5 L1592.9,520.0 L1586.2,526.6 L1577.4,533.3 L1570.7,537.7 L1566.3,546.6 L1561.9,555.4"/>
<path d="M1515.4,464.0 L1526.4,461.7 L1528.7,455.1 L1535.3,454.0 L1548.6,460.6 L1557.5,458.4 L1568.5,455.1 L1570.7,458.4 L1565.2,465.1 L1577.4,466.2"/>
<path d="M1647.7,279.7 L1654.3,281.9 L1661.0,287.5 L1662.1,290.0 L1660.6,298.9 L1659.1,308.2 L1656.7,310.5 L1660.6,312.9 L1663.7,319.1 L1673.0,321.4 L1674.6,325.3 L1671.5,331.5 L1665.3,337.7 L1669.9,340.8 L1673.0,345.4 L1671.5,348.5 L1676.1,354.7 L1682.3,357.1"/>
<path d="M1682.3,357.1 L1683.1,348.5 L1682.3,333.0 L1688.5,316.7 L1704.0,311.3 L1711.8,305.1 L1723.9,303.8 L1726.8,297.8 L1725.8,279.9 L1727.8,265.9 L1733.8,258.9 L1743.8,251.0"/>
<path d="M1748.8,252.0 L1750.8,263.9 L1753.8,279.9 L1755.7,295.8 L1760.7,307.8 L1759.7,315.7 L1757.7,327.7 L1753.8,333.7 L1747.8,335.7"/>
<path d="M1759.7,315.7 L1767.7,317.7 L1775.7,319.7 L1770.0,317.0 L1778.9,320.5 L1783.3,324.9 L1787.7,324.0"/>
<path d="M1808.1,282.4 L1804.6,284.2 L1800.1,291.3 L1795.7,298.3 L1790.4,301.0 L1788.6,305.4 L1788.2,312.5 L1787.3,319.6 L1787.7,324.0"/>
<path d="M1790.4,304.6 L1796.6,305.4 L1801.9,301.9 L1808.1,300.1 L1809.0,302.8 L1804.6,309.0 L1809.0,311.6 L1814.3,311.6 L1816.1,315.2 L1818.3,314.3 L1819.6,306.3 L1827.6,307.2 L1838.2,309.0 L1840.0,309.0"/>
<path d="M1787.7,324.0 L1792.1,324.9 L1799.2,322.3 L1805.4,318.7 L1809.0,320.5 L1807.2,327.6 L1809.0,332.0 L1812.5,332.9 L1817.0,329.4 L1823.2,326.7 L1832.0,324.0 L1833.8,322.3 L1840.9,323.2 L1842.2,323.2"/>
<path d="M1684.0,357.6 L1688.0,359.6 L1694.0,363.6 L1701.9,361.6 L1709.9,355.6 L1713.9,345.6 L1727.8,343.7 L1739.8,339.7 L1747.8,335.7 L1753.8,339.7 L1756.7,347.6 L1759.7,347.6 L1763.7,341.7 L1775.7,335.7 L1750.0,336.1 L1754.4,341.1 L1756.6,346.6 L1759.9,347.7 L1763.3,342.2 L1773.2,335.5 L1776.5,335.5 L1787.6,341.1 L1792.0,346.6 L1797.6,342.2 L1802.0,343.3 L1806.4,346.6 L1817.5,347.7 L1826.4,342.2 L1835.2,344.4"/>
<path d="M1792.0,346.6 L1795.4,352.1 L1797.6,359.9 L1796.5,366.5 L1790.9,368.8 L1792.0,374.3 L1795.4,379.8 L1800.9,380.9"/>
<path d="M1794.3,349.9 L1804.2,355.5 L1812.0,362.1 L1816.4,366.5"/>
<path d="M1682.3,357.1 L1676.1,362.5 L1673.0,368.7 L1672.2,373.2 L1676.6,377.6 L1674.4,386.4 L1676.6,395.3 L1675.5,404.2 L1677.7,417.5 L1677.7,426.3 L1691.0,419.7 L1706.5,415.2 L1710.9,421.9 L1719.8,420.8 L1730.9,428.5 L1744.2,437.4 L1755.2,441.8 L1763.0,446.2 L1757.5,452.9 L1753.0,459.5 L1751.9,466.2 L1757.5,472.8 L1763.0,477.3"/>
<path d="M1614.3,390.9 L1618.9,385.4 L1620.5,392.4 L1628.2,396.3 L1634.4,390.9 L1639.1,399.4 L1646.8,396.3 L1653.0,399.4 L1660.8,397.1 L1668.5,394.0 L1675.5,393.2"/>
<path d="M1678.6,420.3 L1670.1,421.9 L1667.0,425.0 L1665.4,434.3 L1659.2,438.1 L1657.7,445.1 L1659.2,456.0 L1656.1,460.6 L1658.4,468.4 L1649.9,473.0 L1628.2,475.3 L1618.9,477.7 L1609.6,483.9 L1606.5,488.5"/>
<path d="M1606.5,488.5 L1612.7,494.7 L1629.8,496.3 L1634.4,499.4 L1653.0,497.8 L1657.7,502.5 L1655.4,498.8 L1658.7,506.6 L1659.8,515.4 L1666.4,519.9 L1666.4,530.9 L1670.9,539.8 L1693.0,537.6 L1697.5,538.7"/>
<path d="M1757.5,472.8 L1748.6,470.6 L1743.1,475.0 L1744.2,488.3 L1737.5,501.6 L1730.9,508.3 L1732.9,506.6 L1728.5,515.4 L1726.2,526.5 L1715.2,529.8 L1693.0,534.3 L1673.1,538.7"/>
<path d="M1728.5,514.3 L1741.7,519.9"/>
<path d="M1577.4,533.3 L1592.9,533.3 L1615.0,537.7 L1623.9,542.1 L1625.0,551.0 L1628.3,562.1 L1637.2,565.4 L1643.8,570.9 L1639.4,574.3"/>
<path d="M1568.5,586.4 L1588.5,589.8 L1599.5,592.0 L1610.6,585.3 L1628.3,584.2 L1637.2,582.0 L1638.3,575.4"/>
<path d="M1567.4,598.6 L1579.6,599.7 L1592.9,604.2 L1604.0,613.0 L1612.8,619.7 L1619.5,621.9 L1617.3,629.6"/>
<rect x="1646.0" y="430.4" width="13.2" height="8.5"/>
</g>
</g>

<g stroke="#3a3936" fill="none">
<circle cx="1820.7" cy="141.5" r="30.6" stroke-width="1.2"/>

<circle cx="1820.7" cy="141.5" r="24.4" stroke-width="0.5"/>
<circle cx="1820.7" cy="141.5" r="16.8" stroke-width="0.9" stroke-dasharray="0.8 1.2"/>
<line x1="1845.22" y1="146.38" x2="1853.07" y2="147.94" stroke-width="0.6"/>
<line x1="1843.80" y1="151.07" x2="1851.19" y2="154.13" stroke-width="0.6"/>
<line x1="1841.49" y1="155.39" x2="1848.14" y2="159.83" stroke-width="0.6"/>
<line x1="1834.59" y1="162.29" x2="1839.03" y2="168.94" stroke-width="0.6"/>
<line x1="1830.27" y1="164.60" x2="1833.33" y2="171.99" stroke-width="0.6"/>
<line x1="1825.58" y1="166.02" x2="1827.14" y2="173.87" stroke-width="0.6"/>
<line x1="1815.82" y1="166.02" x2="1814.26" y2="173.87" stroke-width="0.6"/>
<line x1="1811.13" y1="164.60" x2="1808.07" y2="171.99" stroke-width="0.6"/>
<line x1="1806.81" y1="162.29" x2="1802.37" y2="168.94" stroke-width="0.6"/>
<line x1="1799.91" y1="155.39" x2="1793.26" y2="159.83" stroke-width="0.6"/>
<line x1="1797.60" y1="151.07" x2="1790.21" y2="154.13" stroke-width="0.6"/>
<line x1="1796.18" y1="146.38" x2="1788.33" y2="147.94" stroke-width="0.6"/>
<line x1="1796.18" y1="136.62" x2="1788.33" y2="135.06" stroke-width="0.6"/>
<line x1="1797.60" y1="131.93" x2="1790.21" y2="128.87" stroke-width="0.6"/>
<line x1="1799.91" y1="127.61" x2="1793.26" y2="123.17" stroke-width="0.6"/>
<line x1="1806.81" y1="120.71" x2="1802.37" y2="114.06" stroke-width="0.6"/>
<line x1="1811.13" y1="118.40" x2="1808.07" y2="111.01" stroke-width="0.6"/>
<line x1="1815.82" y1="116.98" x2="1814.26" y2="109.13" stroke-width="0.6"/>
<line x1="1825.58" y1="116.98" x2="1827.14" y2="109.13" stroke-width="0.6"/>
<line x1="1830.27" y1="118.40" x2="1833.33" y2="111.01" stroke-width="0.6"/>
<line x1="1834.59" y1="120.71" x2="1839.03" y2="114.06" stroke-width="0.6"/>
<line x1="1841.49" y1="127.61" x2="1848.14" y2="123.17" stroke-width="0.6"/>
<line x1="1843.80" y1="131.93" x2="1851.19" y2="128.87" stroke-width="0.6"/>
<line x1="1845.22" y1="136.62" x2="1853.07" y2="135.06" stroke-width="0.6"/>
<line x1="1841.91" y1="162.71" x2="1850.75" y2="171.55" stroke-width="0.5"/>
<line x1="1799.49" y1="162.71" x2="1790.65" y2="171.55" stroke-width="0.5"/>
<line x1="1799.49" y1="120.29" x2="1790.65" y2="111.45" stroke-width="0.5"/>
<line x1="1841.91" y1="120.29" x2="1850.75" y2="111.45" stroke-width="0.5"/>
</g>
<path d="M1820.70,141.50 L1818.15,144.05 L1837.67,158.47 Z" fill="#3a3936"/><path d="M1820.70,141.50 L1823.25,138.95 L1837.67,158.47 Z" fill="#fff" stroke="#3a3936" stroke-width="0.5"/>
<path d="M1820.70,141.50 L1818.15,138.95 L1803.73,158.47 Z" fill="#3a3936"/><path d="M1820.70,141.50 L1823.25,144.05 L1803.73,158.47 Z" fill="#fff" stroke="#3a3936" stroke-width="0.5"/>
<path d="M1820.70,141.50 L1823.25,138.95 L1803.73,124.53 Z" fill="#3a3936"/><path d="M1820.70,141.50 L1818.15,144.05 L1803.73,124.53 Z" fill="#fff" stroke="#3a3936" stroke-width="0.5"/>
<path d="M1820.70,141.50 L1823.25,144.05 L1837.67,124.53 Z" fill="#3a3936"/><path d="M1820.70,141.50 L1818.15,138.95 L1837.67,124.53 Z" fill="#fff" stroke="#3a3936" stroke-width="0.5"/>
<path d="M1820.70,141.50 L1820.70,146.10 L1855.70,141.50 Z" fill="#3a3936"/><path d="M1820.70,141.50 L1820.70,136.90 L1855.70,141.50 Z" fill="#fff" stroke="#3a3936" stroke-width="0.5"/>
<path d="M1820.70,141.50 L1816.10,141.50 L1820.70,176.50 Z" fill="#3a3936"/><path d="M1820.70,141.50 L1825.30,141.50 L1820.70,176.50 Z" fill="#fff" stroke="#3a3936" stroke-width="0.5"/>
<path d="M1820.70,141.50 L1820.70,136.90 L1785.70,141.50 Z" fill="#3a3936"/><path d="M1820.70,141.50 L1820.70,146.10 L1785.70,141.50 Z" fill="#fff" stroke="#3a3936" stroke-width="0.5"/>
<path d="M1820.70,141.50 L1825.30,141.50 L1820.70,106.50 Z" fill="#3a3936"/><path d="M1820.70,141.50 L1816.10,141.50 L1820.70,106.50 Z" fill="#fff" stroke="#3a3936" stroke-width="0.5"/>
<circle cx="1820.7" cy="141.5" r="3.1" fill="#fff" stroke="#3a3936" stroke-width="0.7"/>
<circle cx="1820.7" cy="141.5" r="1.2" fill="#3a3936"/>
<g font-family="Liberation Serif" font-size="7.5" fill="#3a3936" text-anchor="middle">
<text style="font-family:'Liberation Serif',serif" x="1821.3" y="103">N</text><text style="font-family:'Liberation Serif',serif" x="1820.5" y="187.5">S</text><text style="font-family:'Liberation Serif',serif" x="1779.5" y="144">W</text><text style="font-family:'Liberation Serif',serif" x="1859.3" y="145">E</text>
</g>
<!-- LEGEND -->
<circle cx="1255" cy="576.5" r="10.7" fill="#5474ae"/>
<circle cx="1255" cy="622" r="10.7" fill="#c8dfee"/>
<circle cx="1255" cy="670.4" r="10.7" fill="#b51419"/>
<circle cx="1255" cy="716.2" r="10.7" fill="#e5b368"/>
<g font-size="30.3" fill="#111">
<text x="1277" y="587">Povos Originários</text>
<text x="1277" y="633">Europa</text>
<text x="1277" y="681">África</text>
<text x="1277" y="727">Ásia</text>
</g>
</svg>
</body></html>
